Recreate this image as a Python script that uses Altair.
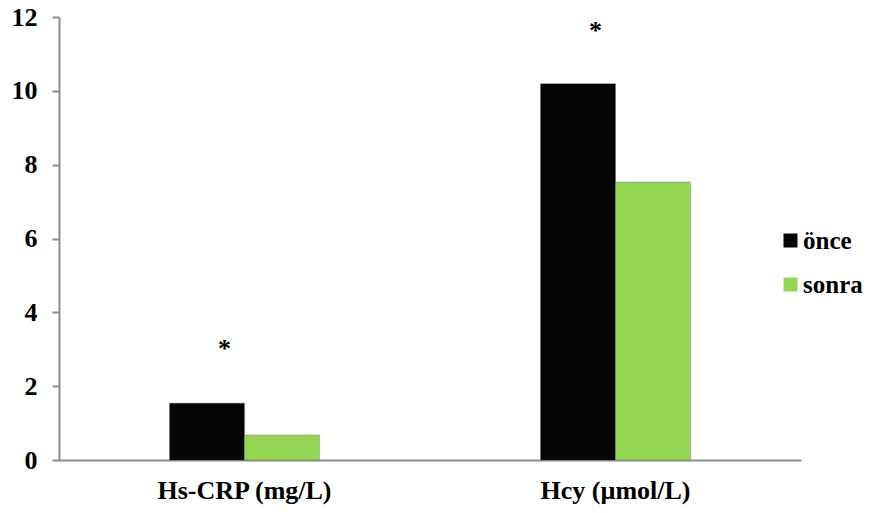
import altair as alt
import pandas as pd

categories = ["Hs-CRP (mg/L)", "Hcy (µmol/L)"]
groups = ["önce", "sonra"]
once_values = [1.54, 10.19]
sonra_values = [0.68, 7.53]
star_values = [3.1, 11.7]
colors = ["#050505", "#94D654"]

rows = []
for c, a, b in zip(categories, once_values, sonra_values):
    rows.append({"kategori": c, "grup": groups[0], "deger": a})
    rows.append({"kategori": c, "grup": groups[1], "deger": b})
df = pd.DataFrame(rows)
stars = pd.DataFrame({"kategori": categories, "deger": star_values, "t": ["*", "*"]})

FONT = "Liberation Serif"
FS = 26

x = alt.X("kategori:N", sort=categories, title=None,
          scale=alt.Scale(paddingInner=0.596, paddingOuter=0.298),
          axis=alt.Axis(labelAngle=0, ticks=False, domainColor="#8c8c8c", domainWidth=2,
                        labelFont=FONT, labelFontSize=FS, labelFontWeight="bold",
                        labelColor="#000", labelPadding=17))
y = alt.Y("deger:Q", title=None,
          scale=alt.Scale(domain=[0, 12], nice=False),
          axis=alt.Axis(values=[0, 2, 4, 6, 8, 10, 12], grid=False, domainColor="#8c8c8c",
                        domainWidth=2, tickColor="#8c8c8c", tickWidth=2, tickSize=7,
                        labelFont=FONT, labelFontSize=FS, labelFontWeight="bold",
                        labelColor="#000", labelPadding=15))

bars = alt.Chart(df).mark_bar(stroke="#3a3a3a", strokeWidth=0.5, strokeOpacity=0.5).encode(
    x=x,
    xOffset=alt.XOffset("grup:N", sort=groups, scale=alt.Scale(paddingInner=0, paddingOuter=0)),
    y=y,
    color=alt.Color("grup:N", sort=groups,
                    scale=alt.Scale(domain=groups, range=colors),
                    legend=alt.Legend(title=None, orient="none", legendX=719, legendY=211,
                                      symbolType="square", symbolSize=196, rowPadding=18,
                                      labelFont=FONT, labelFontSize=25, labelFontWeight="bold",
                                      labelColor="#000", labelOffset=0, symbolStrokeWidth=0)),
)

star_marks = alt.Chart(stars).mark_text(font=FONT, fontSize=26, fontWeight="bold",
                                        color="#000", dx=-20, dy=3, baseline="middle").encode(
    x=alt.X("kategori:N", sort=categories),
    y="deger:Q",
    text="t:N",
)

chart = alt.layer(bars, star_marks).properties(
    width=742, height=443,
    autosize=alt.AutoSizeParams(type="none"),
    padding={"left": 59, "top": 17, "right": 73, "bottom": 53},
).configure(background="white", view=alt.ViewConfig(stroke=None))

chart.save("out.html", embed_options={"renderer": "svg", "actions": False})
